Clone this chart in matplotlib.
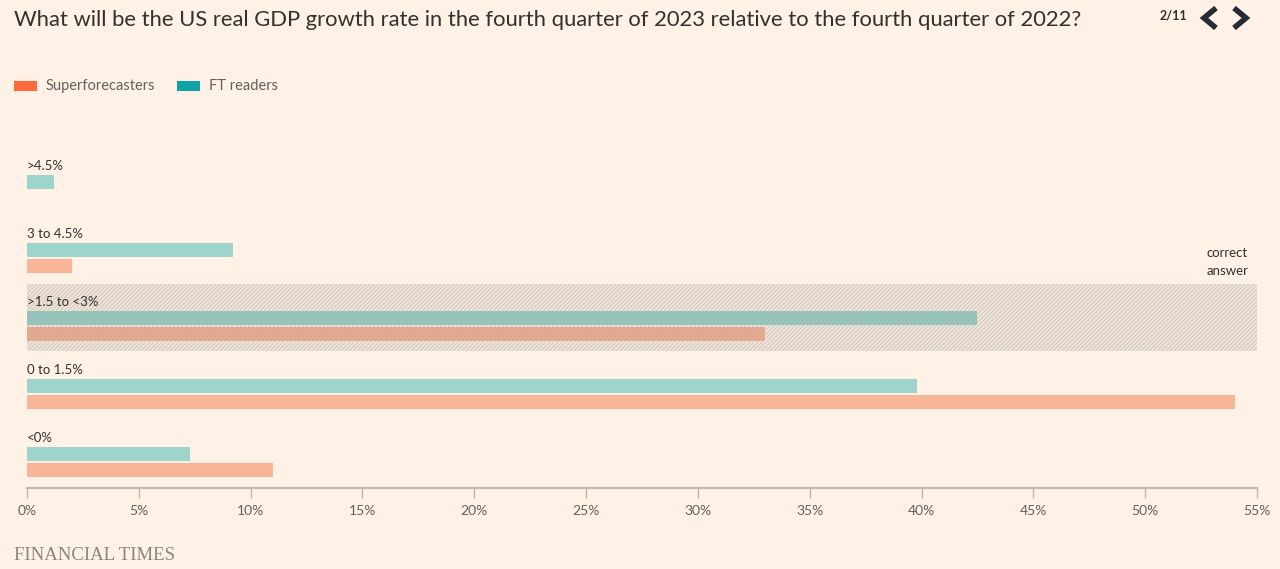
import matplotlib.pyplot as plt
from matplotlib.patches import Rectangle
from matplotlib.lines import Line2D

categories = [">4.5%", "3 to 4.5%", ">1.5 to <3%", "0 to 1.5%", "<0%"]
ft_readers = [1.2, 9.2, 42.5, 39.8, 7.3]
superforecasters = [0.0, 2.0, 33.0, 54.0, 11.0]
correct_row = 2
ticks = [0, 5, 10, 15, 20, 25, 30, 35, 40, 45, 50, 55]
tick_labels = ["%d%%" % t for t in ticks]

bg = "#fff1e5"
ft_col = "#9dd5cc"
sf_col = "#f9b598"
ft_dark = "#88c6bd"
sf_dark = "#eba387"
text_col = "#33302e"
grey = "#66605c"

W, H = 1280, 569
fig = plt.figure(figsize=(12.8, 5.69), dpi=100, facecolor=bg)
# axes placed in pixel terms: x 27..1257, y 150..488
ax = fig.add_axes([27 / W, 1 - 488 / H, 1230 / W, (488 - 150) / H], facecolor=bg)
ax.set_xlim(0, 55)
ax.set_ylim(4.735, -0.235)

bh = 14 / 68
for i, cat in enumerate(categories):
    in_band = i == correct_row
    ax.text(0, i, cat, fontsize=9.5, color=text_col, va="center", ha="left", family="Lato", zorder=5)
    ax.barh(i + 16 / 68, ft_readers[i], height=bh, color=ft_dark if in_band else ft_col, zorder=2)
    if superforecasters[i] > 0:
        ax.barh(i + 32 / 68, superforecasters[i], height=bh, color=sf_dark if in_band else sf_col, zorder=2)

# correct answer band
y0 = correct_row - 0.265
ax.add_patch(Rectangle((0, y0), 55, 0.985, facecolor="#efe4da", edgecolor="none", zorder=1))
plt.rcParams["hatch.linewidth"] = 0.5
ax.add_patch(Rectangle((0, y0), 55, 0.985, facecolor="none", edgecolor="#c9bcb0", hatch="////////",
                       linewidth=0, zorder=3))
ax.text(54.6, correct_row - 0.72, "correct", fontsize=9.5, color=text_col, ha="right", va="center", family="Lato")
ax.text(54.6, correct_row - 0.455, "answer", fontsize=9.5, color=text_col, ha="right", va="center", family="Lato")

for s in ["top", "right", "left"]:
    ax.spines[s].set_visible(False)
ax.spines["bottom"].set_color("#c2b8ae")
ax.spines["bottom"].set_linewidth(1.5)
ax.set_yticks([])
ax.set_xticks(ticks)
ax.set_xticklabels(tick_labels, family="Lato", fontsize=10, color=grey)
ax.tick_params(axis="x", length=7, width=1, color="#c2b8ae", pad=5)

# title and header
fig.text(14 / W, 1 - 20 / H, "What will be the US real GDP growth rate in the fourth quarter of 2023 relative to the fourth quarter of 2022?",
         fontsize=15.8, color=text_col, family="Lato", va="center", ha="left")
fig.text(1160 / W, 1 - 15 / H, "2/11", fontsize=9, color=text_col, family="Lato", weight="bold", va="center")
for cx, d in [(1210, 1), (1240, -1)]:
    xs = [(cx + 6 * d) / W, (cx - 6 * d) / W, (cx + 6 * d) / W]
    ys = [1 - 8 / H, 1 - 18 / H, 1 - 28 / H]
    fig.add_artist(Line2D(xs, ys, color="#262a33", linewidth=4, solid_capstyle="butt", solid_joinstyle="miter"))

# legend
fig.add_artist(Rectangle((14 / W, 1 - 91 / H), 23 / W, 10 / H, facecolor="#ff6a3d", edgecolor="none"))
fig.text(46 / W, 1 - 86 / H, "Superforecasters", fontsize=10.5, color=grey, family="Lato", va="center")
fig.add_artist(Rectangle((177 / W, 1 - 91 / H), 23 / W, 10 / H, facecolor="#0fa3a8", edgecolor="none"))
fig.text(209 / W, 1 - 86 / H, "FT readers", fontsize=10.5, color=grey, family="Lato", va="center")

fig.text(14 / W, 1 - 556 / H, "FINANCIAL TIMES", fontsize=13.5, color="#8c847d", family="Liberation Serif", va="center")

fig.savefig("out.png", dpi=100, facecolor=bg)
